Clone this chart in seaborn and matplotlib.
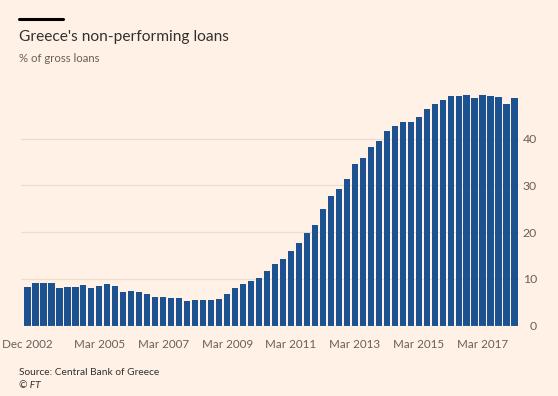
import matplotlib
matplotlib.use("Agg")
import matplotlib.pyplot as plt
from matplotlib.lines import Line2D
import seaborn as sns
import pandas as pd

# quarterly NPL ratio, Dec 2002 .. Mar 2018
quarters = pd.period_range("2002Q4", "2018Q1", freq="Q")
npl_ratio = [8.2, 9.2, 9.2, 9.0, 8.0, 8.3, 8.3, 8.7, 8.0, 8.4,
             8.8, 8.4, 7.2, 7.3, 7.2, 6.8, 6.2, 6.0, 5.9, 5.8,
             5.2, 5.4, 5.4, 5.4, 5.7, 6.8, 8.1, 8.8, 9.5, 10.2,
             11.7, 13.1, 14.2, 16.0, 17.7, 19.9, 21.6, 25.0, 27.8, 29.2,
             31.4, 34.6, 35.9, 38.2, 39.6, 41.7, 42.7, 43.5, 43.6, 44.7,
             46.3, 47.5, 48.2, 49.2, 49.2, 49.3, 48.7, 49.3, 49.2, 48.9,
             47.4, 48.7]
tick_labels = ["Dec 2002", "Mar 2005", "Mar 2007", "Mar 2009",
               "Mar 2011", "Mar 2013", "Mar 2015", "Mar 2017"]
y_ticks = [0, 10, 20, 30, 40]

bg = "#FFF1E5"
bar_col = "#1d5290"
grey = "#66605C"

df = pd.DataFrame({
    "quarter": [q.end_time.strftime("%b %Y") for q in quarters],
    "npl": npl_ratio,
})

sns.set_style("white", {"axes.facecolor": bg, "figure.facecolor": bg})
plt.rcParams["font.family"] = ["Lato", "DejaVu Sans"]

fig = plt.figure(figsize=(5.58, 3.96), dpi=100)
ax = fig.add_axes([21 / 558, (396 - 325.5) / 396, (519 - 21) / 558, (325.5 - 92) / 396])

sns.barplot(data=df, x="quarter", y="npl", color=bar_col, width=0.8,
            saturation=1, ax=ax, linewidth=0)

ax.set_ylim(0, 50)
ax.set_xlim(-0.8, len(df) - 0.45)
for s in ax.spines.values():
    s.set_visible(False)

ax.yaxis.tick_right()
ax.set_yticks(y_ticks)
ax.set_yticklabels([str(v) for v in y_ticks])
ax.tick_params(axis="y", length=0, pad=13, labelsize=8.8, labelcolor=grey)
for lab in ax.get_yticklabels():
    lab.set_horizontalalignment("right")
ax.grid(axis="y", color="#EFDCCB", linewidth=0.9)
ax.set_axisbelow(True)
ax.axhline(0, color="#CFC3B8", linewidth=0.8)

labels = df["quarter"].tolist()
pos = [labels.index(t) for t in tick_labels]
ax.set_xticks(range(len(labels)), minor=True)
ax.set_xticks(pos)
ax.set_xticklabels(tick_labels)
ax.tick_params(axis="x", which="both", length=4, width=0.7, color="#D8CBBF",
               labelsize=8.4, labelcolor=grey, pad=6)
ax.set_xlabel("")
ax.set_ylabel("")

fig.add_artist(Line2D([19 / 558, 63 / 558], [1 - 18.5 / 396, 1 - 18.5 / 396],
                      color="black", linewidth=2.2, transform=fig.transFigure))
fig.text(19 / 558, 1 - 41.5 / 396, "Greece's non-performing loans",
         fontsize=11.2, color="#33302E", va="baseline")
fig.text(19 / 558, 1 - 62 / 396, "% of gross loans",
         fontsize=8.2, color=grey, va="baseline")
fig.text(19 / 558, 1 - 375 / 396, "Source: Central Bank of Greece",
         fontsize=7.3, color="#33302E", va="baseline")
fig.text(19 / 558, 1 - 388 / 396, "© FT",
         fontsize=7.3, color="#33302E", va="baseline", style="italic")

fig.savefig("out.png", dpi=100, facecolor=bg)
